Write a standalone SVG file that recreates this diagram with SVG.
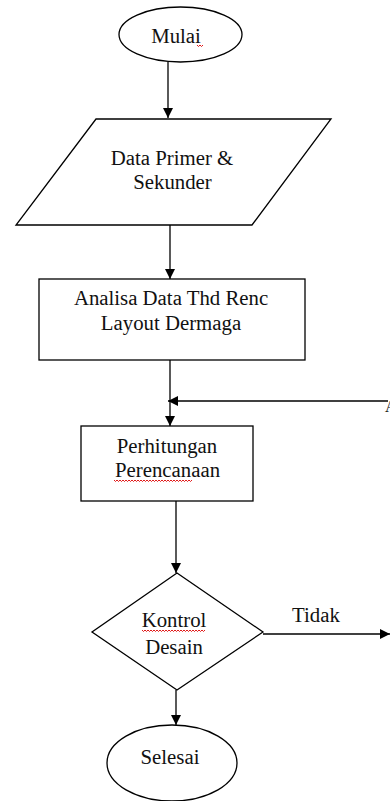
<svg xmlns="http://www.w3.org/2000/svg" width="390" height="801" viewBox="0 0 390 801">
<style>
.s{fill:#fff;stroke:#000;stroke-width:1.3}
.t{font-family:'Liberation Serif','Times New Roman','DejaVu Serif',serif;font-size:20.8px;fill:#111;text-anchor:middle}
.c{fill:none;stroke:#000;stroke-width:1.3}
.sq{fill:none;stroke:#d00;stroke-width:0.9}
</style>
<defs>
<marker id="ah" viewBox="0 0 10 10" refX="10" refY="5" markerWidth="10" markerHeight="10" markerUnits="userSpaceOnUse" orient="auto">
<path d="M0,0 L10,5 L0,10 Z" fill="#000"/>
</marker>
</defs>
<rect width="390" height="801" fill="#fff"/>
<g id="connectors">
<line class="c" x1="168" y1="62" x2="168" y2="118" marker-end="url(#ah)"/>
<line class="c" x1="170" y1="225" x2="170" y2="279" marker-end="url(#ah)"/>
<line class="c" x1="170" y1="360" x2="170" y2="426" marker-end="url(#ah)"/>
<line class="c" x1="388" y1="401" x2="168" y2="401" marker-end="url(#ah)"/>
<line class="c" x1="176" y1="501" x2="176" y2="573" marker-end="url(#ah)"/>
<line class="c" x1="263" y1="634" x2="390" y2="634" marker-end="url(#ah)"/>
<line class="c" x1="176" y1="690" x2="176" y2="725" marker-end="url(#ah)"/>
<text class="t" x="316" y="622" font-family="Liberation Serif, serif">Tidak</text>
<text x="385" y="412" font-family="Liberation Serif, serif" font-size="16" fill="#111">A</text>
</g>
<g id="mulai">
<ellipse class="s" cx="180.5" cy="34.5" rx="61.5" ry="27.5"/>
<text class="t" x="176" y="43">Mulai</text>
<path class="sq" d="M197,45 q1.5,3 3,0 q1.5,3 3,0"/>
</g>
<g id="data">
<polygon class="s" points="96,119 331,119 252,225 16,225"/>
<text class="t" x="172" y="165">Data Primer &amp;</text>
<text class="t" x="172.5" y="189">Sekunder</text>
</g>
<g id="analisa">
<rect class="s" x="39" y="279" width="266" height="81"/>
<text class="t" x="171" y="305">Analisa Data Thd Renc</text>
<text class="t" x="171" y="330">Layout Dermaga</text>
</g>
<g id="perhitungan">
<rect class="s" x="81" y="426" width="172" height="75"/>
<text class="t" x="167" y="453">Perhitungan</text>
<text class="t" x="167.5" y="477">Perencanaan</text>
<path class="sq" d="M114,480 q1.5,3 3,0 q1.5,3 3,0 q1.5,3 3,0 q1.5,3 3,0 q1.5,3 3,0 q1.5,3 3,0 q1.5,3 3,0 q1.5,3 3,0 q1.5,3 3,0 q1.5,3 3,0 q1.5,3 3,0 q1.5,3 3,0 q1.5,3 3,0 q1.5,3 3,0 q1.5,3 3,0 q1.5,3 3,0 q1.5,3 3,0 q1.5,3 3,0 q1.5,3 3,0 q1.5,3 3,0 q1.5,3 3,0 q1.5,3 3,0 q1.5,3 3,0 q1.5,3 3,0 q1.5,3 3,0 q1.5,3 3,0"/>
</g>
<g id="kontrol">
<polygon class="s" points="177,573 263,632 177,690 92,632"/>
<text class="t" x="174" y="627">Kontrol</text>
<text class="t" x="174" y="654">Desain</text>
<path class="sq" d="M142,630 q1.5,3 3,0 q1.5,3 3,0 q1.5,3 3,0 q1.5,3 3,0 q1.5,3 3,0 q1.5,3 3,0 q1.5,3 3,0 q1.5,3 3,0 q1.5,3 3,0 q1.5,3 3,0 q1.5,3 3,0 q1.5,3 3,0 q1.5,3 3,0 q1.5,3 3,0 q1.5,3 3,0 q1.5,3 3,0 q1.5,3 3,0 q1.5,3 3,0 q1.5,3 3,0 q1.5,3 3,0 q1.5,3 3,0"/>
</g>
<g id="selesai">
<ellipse class="s" cx="172" cy="763" rx="65" ry="38"/>
<text class="t" x="170" y="764">Selesai</text>
</g>
</svg>
